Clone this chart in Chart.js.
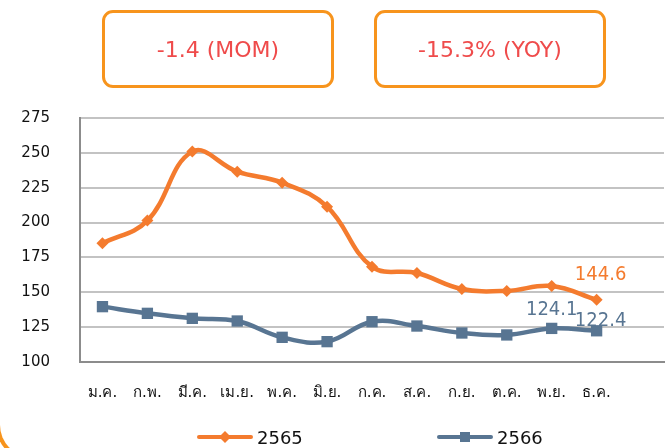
<!DOCTYPE html>
<html>
<head>
<meta charset="utf-8">
<script src="https://cdn.jsdelivr.net/npm/chart.js@4.4.1/dist/chart.umd.min.js"></script>
<style>
  html, body { margin: 0; padding: 0; background: #fff; }
  body { width: 672px; height: 448px; position: relative; overflow: hidden; font-family: "DejaVu Sans", sans-serif; }
  #wrap { position: absolute; left: 0; top: 0; width: 672px; height: 448px; }
  .kpi {
    position: absolute; top: 10px; height: 72px;
    border: 3px solid #F7941D; border-radius: 11px;
    display: flex; align-items: center; justify-content: center;
    color: #EF4B4B; font-size: 22px;
  }
  .corner {
    position: absolute; left: -4px; top: 200px; width: 300px; height: 261px; box-sizing: border-box;
    border-left: 4px solid #F7941D; border-bottom: 4px solid #F7941D;
    border-bottom-left-radius: 36px;
  }
  .legend { position: absolute; top: 426px; height: 22px; display: flex; align-items: center; font-size: 18px; color: #111; }
  .legend .sw { position: relative; width: 56px; height: 22px; margin-right: 4px; }
  .legend .ln { position: absolute; left: 0; right: 0; top: 9px; height: 4px; border-radius: 2px; }
  .legend .mk { position: absolute; left: 23px; top: 6px; width: 10px; height: 10px; }
</style>
</head>
<body>
<div class="corner"></div>
<div id="wrap"><canvas id="chart" width="672" height="448"></canvas></div>
<div class="kpi" style="left:102px; width:226px;">-1.4 (MOM)</div>
<div class="kpi" style="left:374px; width:226px;">-15.3% (YOY)</div>
<div class="legend" style="left:197px;">
  <div class="sw"><div class="ln" style="background:#F47B2E"></div><div class="mk" style="background:#F47B2E; transform:rotate(45deg) scale(0.85);"></div></div>2565
</div>
<div class="legend" style="left:437px;">
  <div class="sw"><div class="ln" style="background:#587592"></div><div class="mk" style="background:#587592;"></div></div>2566
</div>
<script>
// month labels (Thai)
const months = ['ม.ค.', 'ก.พ.', 'มี.ค.', 'เม.ย.', 'พ.ค.', 'มิ.ย.', 'ก.ค.', 'ส.ค.', 'ก.ย.', 'ต.ค.', 'พ.ย.', 'ธ.ค.'];
const y2565 = [185.1, 201.4, 250.9, 236.5, 228.6, 211.4, 168.4, 163.8, 152.4, 151.0, 154.5, 144.6];
const y2566 = [139.7, 134.9, 131.3, 129.4, 117.7, 114.6, 128.9, 125.8, 120.8, 119.4, 124.1, 122.4];
const yTicks = [100, 125, 150, 175, 200, 225, 250, 275];

const ORANGE = '#F47B2E';
const BLUE = '#587592';

// which points get a value label, and how far it sits from the point
const valueLabels = [
  { ds: 0, i: 11, dx: 4, dy: -25, color: ORANGE },
  { ds: 1, i: 10, dx: 0, dy: -19, color: BLUE },
  { ds: 1, i: 11, dx: 4, dy: -10, color: BLUE },
];

const labelPlugin = {
  id: 'valueLabels',
  afterDatasetsDraw(chart) {
    const ctx = chart.ctx;
    ctx.save();
    ctx.font = '20px "Liberation Sans Narrow", "DejaVu Sans Condensed", sans-serif';
    ctx.textAlign = 'center';
    ctx.textBaseline = 'middle';
    for (const l of valueLabels) {
      const pt = chart.getDatasetMeta(l.ds).data[l.i];
      const v = chart.data.datasets[l.ds].data[l.i].y;
      ctx.fillStyle = l.color;
      ctx.fillText(v.toFixed(1), pt.x + l.dx, pt.y + l.dy);
    }
    ctx.restore();
  }
};

new Chart(document.getElementById('chart'), {
  type: 'line',
  data: {
    datasets: [
      {
        label: '2565',
        data: y2565.map((v, i) => ({ x: i, y: v })),
        borderColor: ORANGE,
        backgroundColor: ORANGE,
        borderWidth: 4.5,
        tension: 0.4,
        pointStyle: 'rectRot',
        pointRadius: 6,
        pointBorderWidth: 0,
      },
      {
        label: '2566',
        data: y2566.map((v, i) => ({ x: i, y: v })),
        borderColor: BLUE,
        backgroundColor: BLUE,
        borderWidth: 4.5,
        tension: 0.4,
        pointStyle: 'rect',
        pointRadius: 8,
        pointBorderWidth: 0,
      }
    ]
  },
  options: {
    responsive: false,
    animation: false,
    layout: { padding: { top: 118, right: 2, left: 0, bottom: 0 } },
    plugins: { legend: { display: false }, tooltip: { enabled: false } },
    scales: {
      x: {
        type: 'linear',
        min: -0.5,
        max: 12.5,
        afterBuildTicks: s => { s.ticks = months.map((m, i) => ({ value: i })); },
        afterFit: s => { s.height = 86; },
        grid: { display: false, drawTicks: false },
        border: { display: true, color: '#8C8C8C', width: 2 },
        ticks: {
          padding: 22,
          autoSkip: false,
          maxRotation: 0,
          color: '#111',
          font: { size: 15, family: '"DejaVu Sans", sans-serif' },
          callback: v => months[v] ?? ''
        }
      },
      y: {
        min: 100,
        max: 275,
        afterBuildTicks: s => { s.ticks = yTicks.map(v => ({ value: v })); },
        afterFit: s => { s.width = 80; },
        grid: { color: '#C3C3C3', lineWidth: 2, drawTicks: false },
        border: { display: true, color: '#8C8C8C', width: 2 },
        ticks: {
          padding: 30,
          color: '#111',
          font: { size: 15, family: '"DejaVu Sans", sans-serif' }
        }
      }
    }
  },
  plugins: [labelPlugin]
});
</script>
</body>
</html>
